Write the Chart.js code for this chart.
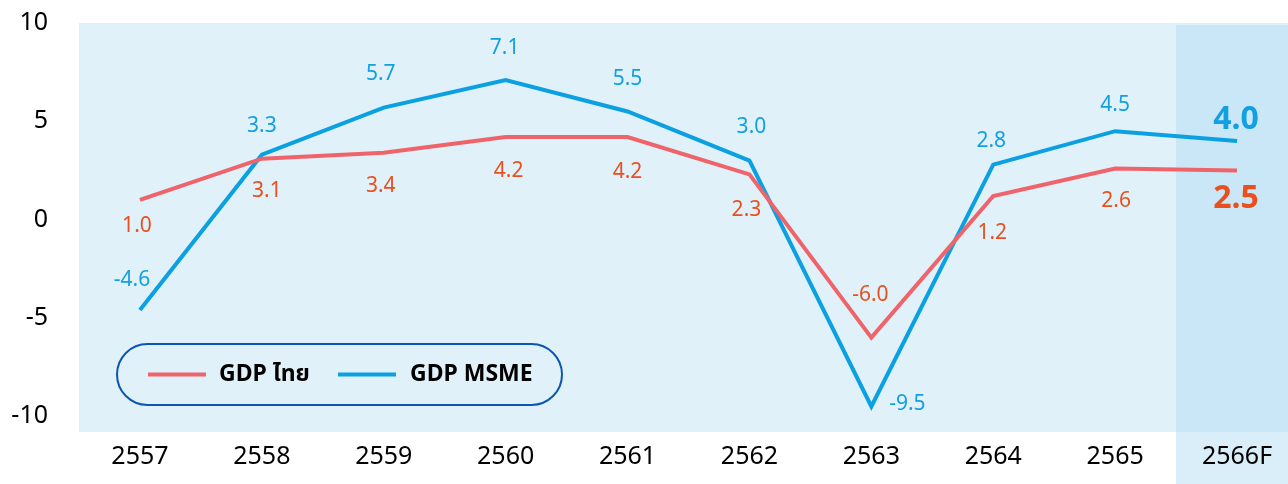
<!DOCTYPE html>
<html>
<head>
<meta charset="utf-8">
<script src="https://cdn.jsdelivr.net/npm/chart.js@4.4.1/dist/chart.umd.min.js"></script>
<style>
  html, body { margin: 0; padding: 0; background: #fff; overflow: hidden; }
  #wrap { width: 1288px; height: 484px; overflow: hidden; }
</style>
</head>
<body>
<div id="wrap"><canvas id="gdpChart" width="1300" height="484"></canvas></div>
<script>
// ข้อมูล
const years = ['2557', '2558', '2559', '2560', '2561', '2562', '2563', '2564', '2565', '2566F'];
const gdpThai = [1.0, 3.1, 3.4, 4.2, 4.2, 2.3, -6.0, 1.2, 2.6, 2.5];
const gdpMsme = [-4.6, 3.3, 5.7, 7.1, 5.5, 3.0, -9.5, 2.8, 4.5, 4.0];
const yTicks = [-10, -5, 0, 5, 10];
const seriesNames = ['GDP ไทย', 'GDP MSME'];

// ตำแหน่งป้ายค่า (px จากจุด)
const thaiLabelOffsets = [[-3, 26], [5, 32], [-3, 33], [3, 34], [0, 35], [-3, 36], [-1, -43], [-1, 37], [1, 33], [-1, 28]];
const msmeLabelOffsets = [[-8, -30], [0, -29], [-3, -34], [-1, -32], [0, -32], [2, -34], [36, -2], [-2, -24], [0, -26], [-1, -21]];

const FONT = "'Noto Sans', 'Noto Sans Thai', 'Tlwg Typist', 'Loma', 'Garuda', 'DejaVu Sans', sans-serif";
const RED_LINE = '#ee646a';
const BLUE_LINE = '#0aa0e2';
const RED_TEXT = '#e9501e';
const BLUE_TEXT = '#12a0e2';

// พื้นหลังพื้นที่กราฟ + แถบปีคาดการณ์
const backgroundPlugin = {
    id: 'bg',
    beforeDraw(chart) {
        const { ctx, chartArea: a, scales: { x } } = chart;
        ctx.save();
        ctx.fillStyle = '#e1f1fa';
        ctx.fillRect(a.left, a.top, a.right - a.left, a.bottom - a.top);
        const half = (x.getPixelForValue(1) - x.getPixelForValue(0)) / 2;
        const bx = x.getPixelForValue(years.length - 1) - half;
        ctx.fillStyle = '#d9eef8';
        ctx.fillRect(bx, a.bottom, chart.width - bx, chart.height - a.bottom);
        ctx.fillStyle = '#cae7f7';
        ctx.fillRect(bx, a.top + 2, chart.width - bx, a.bottom - a.top - 2);
        ctx.restore();
    }
};

// ป้ายค่าบนเส้น
const valueLabelPlugin = {
    id: 'valueLabels',
    afterDatasetsDraw(chart) {
        const ctx = chart.ctx;
        const offsets = [thaiLabelOffsets, msmeLabelOffsets];
        const colors = [RED_TEXT, BLUE_TEXT];
        ctx.save();
        ctx.textAlign = 'center';
        ctx.textBaseline = 'middle';
        chart.data.datasets.forEach((ds, i) => {
            const meta = chart.getDatasetMeta(i);
            meta.data.forEach((pt, j) => {
                const last = j === ds.data.length - 1;
                ctx.font = last ? `bold 32px ${FONT}` : `21px ${FONT}`;
                ctx.fillStyle = colors[i];
                const [dx, dy] = offsets[i][j];
                ctx.fillText(ds.data[j].toFixed(1), pt.x + dx, pt.y + dy);
            });
        });
        ctx.restore();
    }
};

// กรอบคำอธิบาย
const pillLegendPlugin = {
    id: 'pillLegend',
    afterDraw(chart) {
        const ctx = chart.ctx;
        const x = 117, y = 344, w = 445, h = 61, r = h / 2;
        ctx.save();
        ctx.beginPath();
        ctx.roundRect(x, y, w, h, r);
        ctx.lineWidth = 2;
        ctx.strokeStyle = '#0a56b4';
        ctx.stroke();

        const items = [
            { lineX: 148, textX: 219 },
            { lineX: 338, textX: 410 }
        ];
        ctx.font = `bold 23px ${FONT}`;
        ctx.textBaseline = 'middle';
        ctx.textAlign = 'left';
        chart.data.datasets.forEach((ds, i) => {
            const cy = y + h / 2;
            ctx.strokeStyle = ds.borderColor;
            ctx.lineWidth = 4;
            ctx.beginPath();
            ctx.moveTo(items[i].lineX, cy);
            ctx.lineTo(items[i].lineX + 58, cy);
            ctx.stroke();
            ctx.fillStyle = '#000';
            ctx.fillText(ds.label, items[i].textX, cy);
        });
        ctx.restore();
    }
};

const ctx = document.getElementById('gdpChart').getContext('2d');
const chart = new Chart(ctx, {
    type: 'line',
    data: {
        labels: years,
        datasets: [
            { label: seriesNames[0], data: gdpThai, borderColor: RED_LINE, borderWidth: 4, pointRadius: 0, tension: 0 },
            { label: seriesNames[1], data: gdpMsme, borderColor: BLUE_LINE, borderWidth: 4, pointRadius: 0, tension: 0 }
        ]
    },
    options: {
        responsive: false,
        animation: false,
        devicePixelRatio: 1,
        layout: { padding: { top: 23, right: 2, bottom: 0, left: 0 } },
        plugins: { legend: { display: false }, tooltip: { enabled: false } },
        scales: {
            x: {
                offset: true,
                grid: { display: false, drawTicks: false },
                border: { display: false },
                ticks: { color: '#000', font: { family: FONT, size: 25 }, padding: 10, maxRotation: 0 },
                afterFit: scale => { scale.height = 52; }
            },
            y: {
                min: -10.8,
                max: 10,
                grid: { display: false, drawTicks: false },
                border: { display: false },
                ticks: { color: '#000', font: { family: FONT, size: 25 }, padding: 31 },
                afterBuildTicks: scale => { scale.ticks = yTicks.map(v => ({ value: v })); },
                afterFit: scale => {
                    scale.width = 79;
                    scale.paddingTop = 0;
                    scale.paddingBottom = 0;
                }
            }
        }
    },
    plugins: [backgroundPlugin, valueLabelPlugin, pillLegendPlugin]
});
</script>
</body>
</html>
